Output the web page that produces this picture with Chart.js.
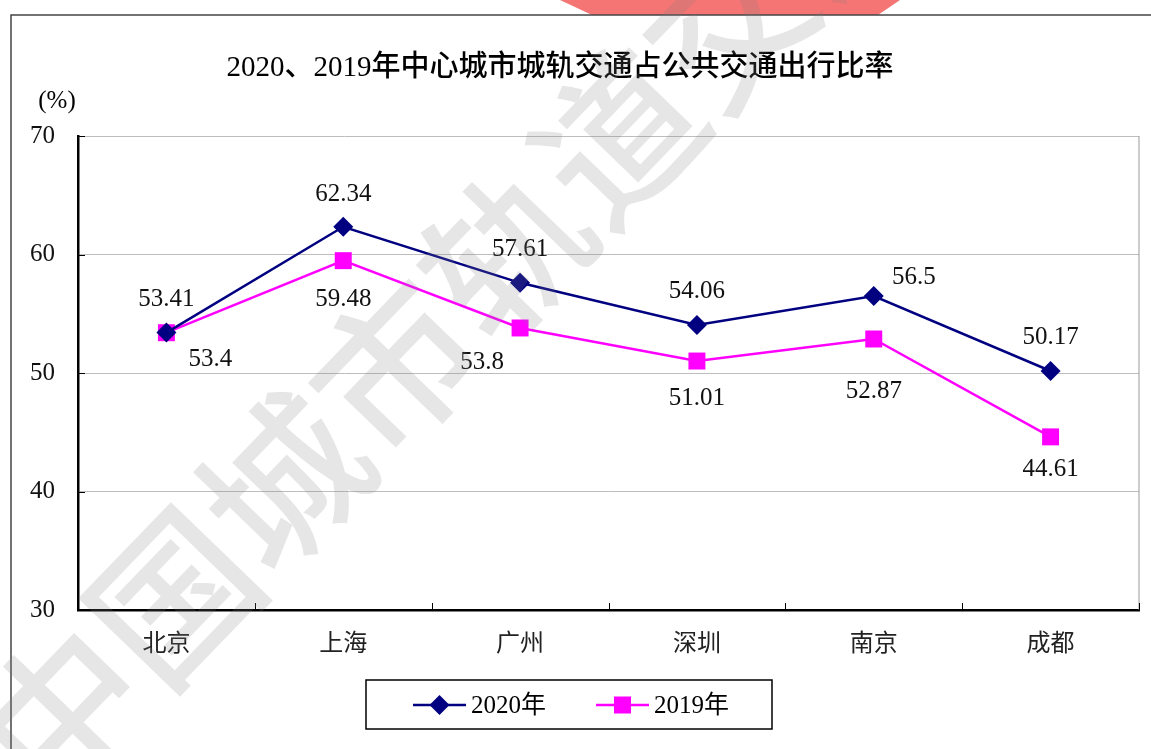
<!DOCTYPE html>
<html>
<head>
<meta charset="utf-8">
<script src="https://cdn.jsdelivr.net/npm/chart.js@4/dist/chart.umd.min.js"></script>
<style>
  html, body { margin: 0; padding: 0; background: #fff; }
  canvas { display: block; }
</style>
</head>
<body>
<canvas id="myChart" width="1151" height="749"></canvas>
<script>
// data
const cities = ['北京', '上海', '广州', '深圳', '南京', '成都'];
const rate2020 = [53.41, 62.34, 57.61, 54.06, 56.5, 50.17];
const rate2019 = [53.4, 59.48, 53.8, 51.01, 52.87, 44.61];
const seriesNames = ['2020年', '2019年'];
const yMin = 30, yMax = 70, yStep = 10;

// where each value label sits relative to its point (x, y)
const off2020 = [[0, -33], [0, -32], [0, -33], [0, -33], [40, -19], [0, -34]];
const off2019 = [[44, 27], [0, 39], [-38, 34], [0, 37], [0, 52], [0, 33]];

const serif = '"Liberation Serif", "Noto Sans CJK SC", serif';
const navy = '#000080';
const pink = '#ff00ff';

function drawMarker(ctx, style, x, y, r, color) {
  ctx.save();
  ctx.fillStyle = color;
  ctx.beginPath();
  if (style === 'diamond') {
    ctx.moveTo(x, y - r); ctx.lineTo(x + r, y); ctx.lineTo(x, y + r); ctx.lineTo(x - r, y);
  } else {
    ctx.rect(x - r, y - r, 2 * r, 2 * r);
  }
  ctx.closePath();
  ctx.fill();
  ctx.restore();
}

const deco = {
  id: 'deco',
  beforeDraw(chart) {
    const ctx = chart.ctx;
    ctx.save();
    ctx.fillStyle = '#fff';
    ctx.fillRect(0, 0, chart.width, chart.height);
    // red logo corner at the top
    ctx.fillStyle = '#f57474';
    ctx.beginPath();
    ctx.moveTo(560, 0); ctx.lineTo(900, 0); ctx.lineTo(878, 15); ctx.lineTo(592, 15);
    ctx.closePath();
    ctx.fill();
    // outer frame
    ctx.strokeStyle = '#444';
    ctx.lineWidth = 1.5;
    ctx.beginPath();
    ctx.moveTo(11, chart.height); ctx.lineTo(11, 15); ctx.lineTo(chart.width, 15);
    ctx.stroke();
    ctx.restore();
  },
  beforeDatasetsDraw(chart) {
    const ctx = chart.ctx, a = chart.chartArea;
    const xs = chart.scales.x, ys = chart.scales.y;
    ctx.save();
    // gray right border
    ctx.strokeStyle = '#999';
    ctx.lineWidth = 1;
    ctx.beginPath();
    ctx.moveTo(a.right, a.top); ctx.lineTo(a.right, a.bottom);
    ctx.stroke();
    // inward tick marks
    ctx.strokeStyle = '#000';
    ctx.lineWidth = 1;
    const n = cities.length;
    for (let i = 1; i <= n; i++) {
      const x = Math.round(xs.left + i * (xs.right - xs.left) / n) + 0.5;
      ctx.beginPath(); ctx.moveTo(x, a.bottom); ctx.lineTo(x, a.bottom - 7); ctx.stroke();
    }
    for (let v = yMin + yStep; v <= yMax; v += yStep) {
      const y = Math.round(ys.getPixelForValue(v)) + 0.5;
      ctx.beginPath(); ctx.moveTo(a.left, y); ctx.lineTo(a.left + 7, y); ctx.stroke();
    }
    ctx.restore();
  },
  afterDatasetsDraw(chart) {
    const ctx = chart.ctx;
    ctx.save();
    ctx.font = '25px ' + serif;
    ctx.fillStyle = '#111';
    ctx.textAlign = 'center';
    ctx.textBaseline = 'middle';
    [off2020, off2019].forEach((offs, di) => {
      const meta = chart.getDatasetMeta(di);
      const vals = chart.data.datasets[di].data;
      meta.data.forEach((pt, i) => {
        ctx.fillText(String(vals[i]), pt.x + offs[i][0], pt.y + offs[i][1]);
      });
    });
    ctx.restore();
  },
  afterDraw(chart) {
    const ctx = chart.ctx;
    ctx.save();
    // title
    ctx.fillStyle = '#000';
    ctx.textAlign = 'center';
    ctx.textBaseline = 'middle';
    ctx.font = '500 29px ' + serif;
    ctx.fillText('2020、2019年中心城市城轨交通占公共交通出行比率', 560, 68);
    // unit
    ctx.font = '25px ' + serif;
    ctx.fillText('(%)', 57, 101);
    // legend box
    ctx.strokeStyle = '#000';
    ctx.lineWidth = 1.5;
    ctx.strokeRect(366, 680, 406, 49);
    const items = [
      { x: 413, color: navy, style: 'diamond', r: 10 },
      { x: 596, color: pink, style: 'square', r: 8.5 }
    ];
    items.forEach((it, i) => {
      ctx.strokeStyle = it.color;
      ctx.lineWidth = 2.5;
      ctx.beginPath(); ctx.moveTo(it.x, 705); ctx.lineTo(it.x + 53, 705); ctx.stroke();
      drawMarker(ctx, it.style, it.x + 26.5, 705, it.r, it.color);
      ctx.fillStyle = '#000';
      ctx.textAlign = 'left';
      ctx.font = '25px ' + serif;
      ctx.fillText(seriesNames[i], it.x + 58, 706);
    });
    // watermark
    ctx.translate(62, 712);
    ctx.rotate(-46 * Math.PI / 180);
    ctx.font = '500 160px "Noto Sans CJK SC", sans-serif';
    ctx.fillStyle = 'rgba(130,130,130,0.2)';
    ctx.textAlign = 'left';
    ctx.textBaseline = 'middle';
    ctx.fillText('中国城市轨道交通', -80, 0);
    ctx.restore();
  }
};

const data = {
  labels: cities,
  datasets: [{
    label: seriesNames[0],
    data: rate2020,
    borderColor: navy,
    backgroundColor: navy,
    borderWidth: 2.5,
    pointStyle: 'rectRot',
    pointRadius: 10,
    pointHoverRadius: 10,
    pointBorderWidth: 0,
    tension: 0
  }, {
    label: seriesNames[1],
    data: rate2019,
    borderColor: pink,
    backgroundColor: pink,
    borderWidth: 2.5,
    pointStyle: 'rect',
    pointRadius: 12,
    pointHoverRadius: 12,
    pointBorderWidth: 0,
    tension: 0
  }]
};

const config = {
  type: 'line',
  data: data,
  options: {
    responsive: false,
    animation: false,
    layout: { padding: { left: 0, top: 136, right: 10, bottom: 0 } },
    plugins: {
      legend: { display: false },
      title: { display: false },
      tooltip: { enabled: false }
    },
    scales: {
      x: {
        offset: true,
        afterFit: s => { s.height = 139; },
        grid: { display: false, drawTicks: false },
        border: { color: '#000', width: 2.5 },
        ticks: { font: { family: serif, size: 24 }, color: '#222', padding: 20 }
      },
      y: {
        min: yMin,
        max: yMax,
        afterFit: s => { s.width = 78; },
        grid: { color: '#bdbdbd', lineWidth: 1, drawTicks: false },
        border: { color: '#000', width: 2.5 },
        ticks: { stepSize: yStep, font: { family: serif, size: 25 }, color: '#111', padding: 23 }
      }
    }
  },
  plugins: [deco]
};

var myChart = new Chart(document.getElementById('myChart'), config);
</script>
</body>
</html>
